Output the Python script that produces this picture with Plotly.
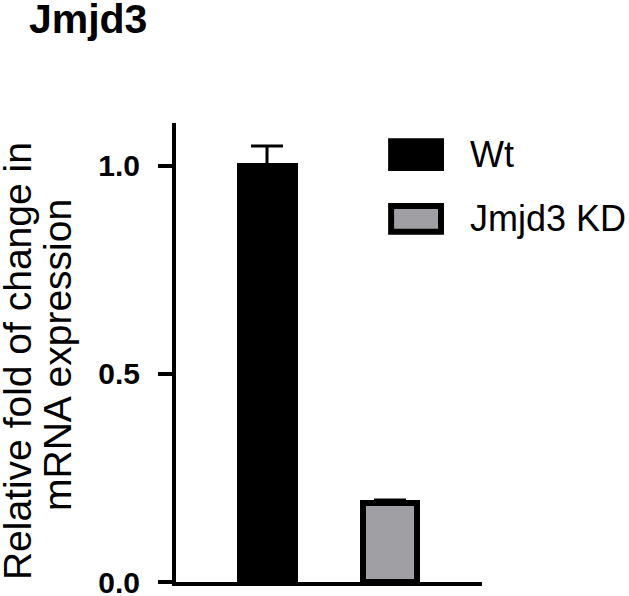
import plotly.graph_objects as go

# ---- data ----
groups = ["Wt", "Jmjd3 KD"]
values = [1.0, 0.19]
errors = [0.048, 0.007]
colors = ["#000000", "#A0A0A4"]
y_ticks = [0.0, 0.5, 1.0]
y_tick_labels = ["0.0", "0.5", "1.0"]
title_text = "Jmjd3"
y_title_lines = ["Relative fold of change in", "mRNA expression"]

FONT = "Liberation Sans, Arial, sans-serif"

fig = go.Figure()
for i, (g, v, e, c) in enumerate(zip(groups, values, errors, colors)):
    fig.add_trace(go.Bar(
        x=[i], y=[v], name=g,
        width=0.447,
        marker=dict(color=c, line=dict(color="#000000", width=6)),
        error_y=dict(type="data", array=[e], symmetric=False, arrayminus=[0],
                     color="#000000", thickness=3, width=16),
        showlegend=False,
    ))

# legend drawn as layout decoration (large swatches)
legend_rows = [(0.967, 0.895), (0.826, 0.756)]
for (g, c), (ytop, ybot) in zip(zip(groups, colors), legend_rows):
    fig.add_shape(type="rect", xref="paper", yref="paper",
                  x0=0.703, x1=0.866, y0=ybot + 0.007, y1=ytop - 0.007,
                  fillcolor=c, line=dict(color="#000000", width=6))
    fig.add_annotation(xref="paper", yref="paper", x=0.955, y=(ytop + ybot) / 2,
                       text=g, showarrow=False, xanchor="left", yanchor="middle",
                       font=dict(family=FONT, size=36, color="#000000"))

# y-axis title as two rotated lines
for line, xp, yp in zip(y_title_lines, [-0.516, -0.3856], [0.4815, 0.4946]):
    fig.add_annotation(xref="paper", yref="paper", x=xp, y=yp,
                       text=line, textangle=-90, showarrow=False,
                       xanchor="center", yanchor="middle",
                       font=dict(family=FONT, size=39, color="#000000"))

fig.update_layout(
    width=629, height=596,
    margin=dict(l=176, r=147, t=123, b=14, autoexpand=False),
    paper_bgcolor="white", plot_bgcolor="white",
    title=dict(text="<b>" + title_text + "</b>", x=0.046, xanchor="left",
               y=0.992, yanchor="top", yref="container",
               font=dict(family=FONT, size=41, color="#000000")),
    bargap=0,
)
fig.update_xaxes(range=[-0.74, 1.748], showticklabels=False, ticks="",
                 showgrid=False, zeroline=False, showline=True,
                 linecolor="#000000", linewidth=4, automargin=False)
fig.update_yaxes(range=[0, 1.103], tickvals=y_ticks, ticktext=y_tick_labels,
                 ticks="outside", ticklen=14, tickwidth=4, tickcolor="#000000",
                 showgrid=False, zeroline=False, showline=True,
                 linecolor="#000000", linewidth=4, ticklabelstandoff=12,
                 ticklabeloverflow="allow", automargin=False,
                 tickfont=dict(family=FONT, size=30, color="#000000", weight="bold"))

fig.write_html("out.html",
               config={"displayModeBar": False},
               post_script="document.body.style.margin='0';document.body.style.padding='0';")
